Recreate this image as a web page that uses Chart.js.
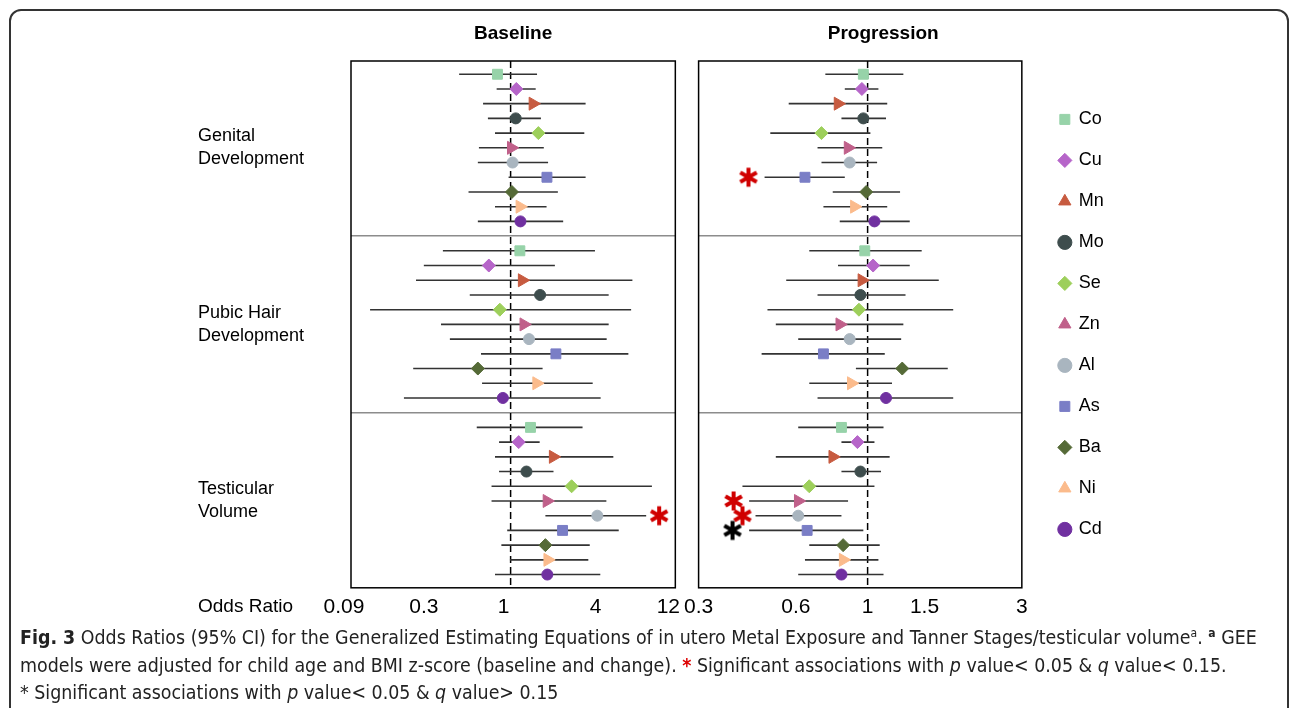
<!DOCTYPE html>
<html>
<head>
<meta charset="utf-8">
<script src="https://cdn.jsdelivr.net/npm/chart.js@4.4.1/dist/chart.umd.min.js"></script>
<style>
  body { margin: 0; background: #fff; }
  #fig { position: relative; width: 1292px; height: 708px; overflow: hidden; font-family: "Liberation Sans", Arial, sans-serif; }
  #frame { position: absolute; left: 9px; top: 9px; width: 1276px; height: 760px; border: 2px solid #333; border-radius: 12px; }
  #baseCanvas { position: absolute; left: 180px; top: 0; }
  #progCanvas { position: absolute; left: 677px; top: 0; }
  #caption { position: absolute; left: 20px; top: 624px; font-family: "Liberation Sans Narrow", "DejaVu Sans Condensed", sans-serif;
             font-size: 19.4px; line-height: 27.5px; color: #222; white-space: nowrap; }
  #caption sup { font-size: 12px; line-height: 0; }
</style>
</head>
<body>
<div id="fig">
  <div id="frame"></div>
  <canvas id="baseCanvas" width="514" height="640"></canvas>
  <canvas id="progCanvas" width="613" height="640"></canvas>
  <div id="caption">
    <div><b>Fig. 3</b> Odds Ratios (95% CI) for the Generalized Estimating Equations of in utero Metal Exposure and Tanner Stages/testicular volume<sup>a</sup>. <sup><b>a</b></sup> GEE</div>
    <div>models were adjusted for child age and BMI z-score (baseline and change). <span style="color:#d00;font-weight:bold">*</span> Significant associations with <i>p</i> value&lt; 0.05 &amp; <i>q</i> value&lt; 0.15.</div>
    <div>* Significant associations with <i>p</i> value&lt; 0.05 &amp; <i>q</i> value&gt; 0.15</div>
  </div>
</div>
<script>
// metals, in plotting order (top to bottom inside every outcome block)
const metals = ['Co', 'Cu', 'Mn', 'Mo', 'Se', 'Zn', 'Al', 'As', 'Ba', 'Ni', 'Cd'];
const metalColors = ['#97d3a9', '#b665c9', '#c75b40', '#3e4d4d', '#9dcf5b', '#c0608a', '#a9b5bf', '#7a7ec6', '#556a37', '#fbbb8c', '#7030a0'];
const metalShapes = ['rect', 'rectRot', 'triangle', 'circle', 'rectRot', 'triangle', 'circle', 'rect', 'rectRot', 'triangle', 'circle'];
const outcomes = [['Genital', 'Development'], ['Pubic Hair', 'Development'], ['Testicular', 'Volume']];

const baseTicks = [0.09, 0.3, 1, 4, 12];
const progTicks = [0.3, 0.6, 1, 1.5, 3];

// Baseline odds ratios with 95% CI
const baseGenitalOR = [0.82, 1.09, 1.40, 1.08, 1.52, 1.01, 1.03, 1.73, 1.02, 1.15, 1.16];
const baseGenitalLo = [0.46, 0.81, 0.66, 0.71, 0.79, 0.62, 0.61, 0.97, 0.53, 0.79, 0.61];
const baseGenitalHi = [1.49, 1.46, 3.10, 1.58, 3.04, 1.65, 1.76, 3.10, 2.04, 1.72, 2.21];

const basePubicOR = [1.15, 0.72, 1.19, 1.56, 0.85, 1.22, 1.32, 1.98, 0.61, 1.48, 0.89];
const basePubicLo = [0.36, 0.27, 0.24, 0.54, 0.12, 0.35, 0.40, 0.64, 0.23, 0.65, 0.20];
const basePubicHi = [3.57, 1.95, 6.28, 4.39, 6.16, 4.39, 4.26, 5.91, 1.62, 3.45, 3.89];

const baseTesticOR = [1.35, 1.13, 1.90, 1.27, 2.51, 1.73, 3.70, 2.19, 1.69, 1.75, 1.74];
const baseTesticLo = [0.60, 0.84, 0.79, 0.84, 0.75, 0.75, 1.69, 0.95, 0.87, 0.99, 0.79];
const baseTesticHi = [2.96, 1.55, 4.71, 1.91, 8.43, 4.24, 7.73, 5.11, 3.30, 3.23, 3.87];

// Progression odds ratios with 95% CI
const progGenitalOR = [0.97, 0.96, 0.81, 0.97, 0.72, 0.87, 0.88, 0.64, 0.99, 0.91, 1.05];
const progGenitalLo = [0.74, 0.85, 0.57, 0.83, 0.50, 0.70, 0.72, 0.48, 0.78, 0.73, 0.82];
const progGenitalHi = [1.29, 1.08, 1.15, 1.14, 1.02, 1.11, 1.07, 0.85, 1.26, 1.15, 1.35];

const progPubicOR = [0.98, 1.04, 0.96, 0.95, 0.94, 0.82, 0.88, 0.73, 1.28, 0.89, 1.14];
const progPubicLo = [0.66, 0.81, 0.56, 0.70, 0.49, 0.52, 0.61, 0.47, 0.92, 0.66, 0.70];
const progPubicHi = [1.47, 1.35, 1.66, 1.31, 1.84, 1.29, 1.27, 1.13, 1.77, 1.19, 1.84];

const progTesticOR = [0.83, 0.93, 0.78, 0.95, 0.66, 0.61, 0.61, 0.65, 0.84, 0.84, 0.83];
const progTesticLo = [0.61, 0.83, 0.52, 0.83, 0.41, 0.43, 0.45, 0.43, 0.66, 0.64, 0.61];
const progTesticHi = [1.12, 1.05, 1.17, 1.10, 1.05, 0.87, 0.83, 0.97, 1.09, 1.08, 1.12];

// significance stars: outcome index, metal, x value, colour
const baseStarOutcome = [2];
const baseStarMetal = ['Al'];
const baseStarX = [9.4];
const baseStarColor = ['red'];

const progStarOutcome = [0, 2, 2, 2];
const progStarMetal = ['As', 'Zn', 'Al', 'As'];
const progStarX = [0.428, 0.385, 0.41, 0.382];
const progStarColor = ['red', 'red', 'red', 'black'];

const BLOCK = 12;          // 11 metals + 1 separator row per outcome
const Y_MIN = -0.9;
const Y_MAX = 34.9;

function rowOf(outcome, metalIdx) {
  return outcome * BLOCK + metalIdx;
}

function makeStar(color) {
  const c = document.createElement('canvas');
  c.width = 24;
  c.height = 24;
  const g = c.getContext('2d');
  g.strokeStyle = color === 'red' ? '#d00000' : '#000';
  g.lineWidth = 4;
  for (let k = 0; k < 3; k++) {
    const a = Math.PI / 2 + k * Math.PI / 3;
    g.beginPath();
    g.moveTo(12 - 9.5 * Math.cos(a), 12 - 9.5 * Math.sin(a));
    g.lineTo(12 + 9.5 * Math.cos(a), 12 + 9.5 * Math.sin(a));
    g.stroke();
  }
  return c;
}
const starImages = { red: makeStar('red'), black: makeStar('black') };

function pointSize(shape) {
  switch (shape) {
    case 'rect': return 7;
    case 'rectRot': return 6.5;
    case 'triangle': return 7.5;
    default: return 5.5;
  }
}

function buildDatasets(ors, los, his, starOutcome, starMetal, starX, starColor) {
  const datasets = [];

  // reference line at OR = 1
  datasets.push({
    label: 'ref',
    data: [{ x: 1, y: Y_MIN }, { x: 1, y: Y_MAX }],
    showLine: true, borderColor: '#000', borderWidth: 1.5, borderDash: [7, 4],
    pointRadius: 0, order: 3
  });

  // confidence intervals, one broken line
  const ci = [];
  for (let s = 0; s < outcomes.length; s++) {
    for (let m = 0; m < metals.length; m++) {
      ci.push({ x: los[s][m], y: rowOf(s, m) });
      ci.push({ x: his[s][m], y: rowOf(s, m) });
      ci.push({ x: 1, y: null });
    }
  }
  datasets.push({
    label: 'CI', data: ci, showLine: true, spanGaps: false,
    borderColor: '#333', borderWidth: 1.6, pointRadius: 0, order: 2
  });

  // one point dataset per metal
  metals.forEach((name, m) => {
    const pts = [];
    for (let s = 0; s < outcomes.length; s++) {
      pts.push({ x: ors[s][m], y: rowOf(s, m) });
    }
    datasets.push({
      label: name, data: pts,
      pointStyle: metalShapes[m],
      pointRotation: metalShapes[m] === 'triangle' ? 90 : 0,
      pointRadius: pointSize(metalShapes[m]),
      backgroundColor: metalColors[m], borderColor: metalColors[m],
      pointBackgroundColor: metalColors[m], pointBorderColor: metalColors[m],
      borderWidth: 1, order: 0
    });
  });

  // stars
  datasets.push({
    label: 'stars',
    data: starX.map((x, i) => ({ x: x, y: rowOf(starOutcome[i], metals.indexOf(starMetal[i])) })),
    pointStyle: starColor.map(c => starImages[c]),
    order: 0
  });

  return datasets;
}

const panelDecor = {
  id: 'panelDecor',
  afterDraw(chart, args, opts) {
    const { ctx, chartArea: a, scales } = chart;
    ctx.save();
    ctx.strokeStyle = '#000';
    ctx.lineWidth = 1.5;
    ctx.strokeRect(a.left, a.top, a.right - a.left, a.bottom - a.top);

    ctx.fillStyle = '#000';
    ctx.textAlign = 'center';
    ctx.textBaseline = 'middle';
    ctx.font = 'bold 19px "Liberation Sans", Arial, sans-serif';
    ctx.fillText(opts.title, (a.left + a.right) / 2 + opts.titleShift, 34);

    if (opts.rowLabels) {
      ctx.textAlign = 'left';
      ctx.font = '18px "Liberation Sans", Arial, sans-serif';
      outcomes.forEach((lines, s) => {
        const yc = scales.y.getPixelForValue(s * BLOCK + 5);
        ctx.fillText(lines[0], opts.labelX, yc - 11.5);
        ctx.fillText(lines[1], opts.labelX, yc + 11.5);
      });
      ctx.font = '19px "Liberation Sans", Arial, sans-serif';
      ctx.fillText('Odds Ratio', opts.labelX, a.bottom + 19);
    }
    ctx.restore();
  }
};

Chart.defaults.font.family = '"Liberation Sans", Arial, sans-serif';
Chart.defaults.color = '#000';

function makePanel(canvasId, cfg) {
  const scales = {
    x: {
      type: 'logarithmic', min: cfg.ticks[0], max: cfg.ticks[cfg.ticks.length - 1],
      afterBuildTicks: s => { s.ticks = cfg.ticks.map(v => ({ value: v })); },
      ticks: { callback: v => String(v), font: { size: 21 }, color: '#000', padding: 7,
               autoSkip: false, maxRotation: 0, labelOffset: cfg.labelOffset },
      grid: { display: false, drawTicks: false },
      border: { display: false }
    },
    y: {
      type: 'linear', reverse: true, min: Y_MIN, max: Y_MAX,
      afterBuildTicks: s => { s.ticks = [{ value: BLOCK - 1 }, { value: 2 * BLOCK - 1 }]; },
      afterFit: s => { s.width = 0; },
      ticks: { display: false },
      grid: { color: '#8c8c8c', lineWidth: 1.5, drawTicks: false },
      border: { display: false }
    }
  };
  if (cfg.legend) {
    scales.yPad = {
      position: 'right', display: true,
      ticks: { display: false }, grid: { display: false }, border: { display: false },
      afterFit: s => { s.width = 15; }
    };
  }

  return new Chart(document.getElementById(canvasId), {
    type: 'scatter',
    data: { datasets: cfg.datasets },
    options: {
      responsive: false, animation: false, events: [],
      layout: { padding: cfg.padding },
      scales: scales,
      plugins: {
        tooltip: { enabled: false },
        legend: {
          display: !!cfg.legend, position: 'right', fullSize: false, align: 'center',
          labels: {
            usePointStyle: true, boxWidth: 10, boxHeight: 10, padding: 23,
            color: '#000', font: { size: 18 },
            generateLabels: chart => Chart.defaults.plugins.legend.labels.generateLabels(chart)
              .map(it => Object.assign(it, { rotation: 0 })),
            filter: item => metals.includes(item.text)
          }
        },
        panelDecor: cfg.decor
      }
    },
    plugins: [panelDecor]
  });
}

makePanel('baseCanvas', {
  ticks: baseTicks,
  labelOffset: -7,
  padding: { left: 171, right: 14, top: 61, bottom: 13 },
  datasets: buildDatasets(
    [baseGenitalOR, basePubicOR, baseTesticOR],
    [baseGenitalLo, basePubicLo, baseTesticLo],
    [baseGenitalHi, basePubicHi, baseTesticHi],
    baseStarOutcome, baseStarMetal, baseStarX, baseStarColor),
  decor: { title: 'Baseline', titleShift: 0, rowLabels: true, labelX: 18 }
});

makePanel('progCanvas', {
  ticks: progTicks,
  labelOffset: 0,
  legend: true,
  padding: { left: 9, right: 183, top: 61, bottom: 13 },
  datasets: buildDatasets(
    [progGenitalOR, progPubicOR, progTesticOR],
    [progGenitalLo, progPubicLo, progTesticLo],
    [progGenitalHi, progPubicHi, progTesticHi],
    progStarOutcome, progStarMetal, progStarX, progStarColor),
  decor: { title: 'Progression', titleShift: 23, rowLabels: false }
});
</script>
</body>
</html>
